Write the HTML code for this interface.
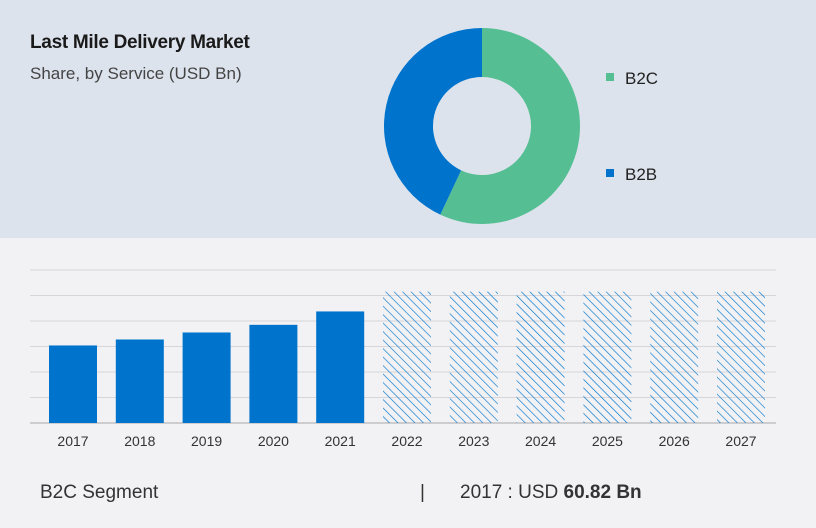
<!DOCTYPE html>
<html><head><meta charset="utf-8"><style>
body{margin:0;width:816px;height:528px;background:#f2f2f4;font-family:"Liberation Sans",sans-serif;position:relative;overflow:hidden}
.top{position:absolute;left:0;top:0;width:816px;height:238px;background:#dde3ed}
.t{position:absolute;left:30px;top:32px;font-size:19px;font-weight:bold;color:#1a1a1a;letter-spacing:-0.3px}
.s{position:absolute;left:30px;top:64px;font-size:17px;color:#444}
.f{position:absolute;top:482px;font-size:19px;color:#333}
</style></head><body>
<div class="top"></div>
<div class="t">Last Mile Delivery Market</div>
<div class="s">Share, by Service (USD Bn)</div>
<svg id="pie" width="816" height="528" style="position:absolute;left:0;top:0"></svg>
<div class="f" style="left:40px">B2C Segment</div>
<div class="f" style="left:420px">|</div>
<div class="f" style="left:460px">2017 : USD <b>60.82 Bn</b></div>
<script>
const pieLabels=["B2C","B2B"];
const pieValues=[57,43];
const pieColors=["#55bf93","#0074cc"];
const years=["2017","2018","2019","2020","2021","2022","2023","2024","2025","2026","2027"];
const barValues=[60.82,65.5,71,77,87.5,103,103,103,103,103,103];
const forecast=[false,false,false,false,false,true,true,true,true,true,true];
const ticks=[0,20,40,60,80,100,120];
const NS="http://www.w3.org/2000/svg";
const svg=document.getElementById('pie');
function mk(t,a){const e=document.createElementNS(NS,t);for(const k in a)e.setAttribute(k,a[k]);svg.appendChild(e);return e;}
const defs=mk('defs',{});
const pat=document.createElementNS(NS,'pattern');
pat.setAttribute('id','hatch');pat.setAttribute('width','6');pat.setAttribute('height','6');pat.setAttribute('patternUnits','userSpaceOnUse');pat.setAttribute('patternTransform','rotate(-45)');
const pl=document.createElementNS(NS,'line');pl.setAttribute('x1','0');pl.setAttribute('y1','0');pl.setAttribute('x2','0');pl.setAttribute('y2','6');pl.setAttribute('stroke','#0074cc');pl.setAttribute('stroke-width','1.3');
pat.appendChild(pl);defs.appendChild(pat);
// donut
const pcx=482,pcy=126,pR=98,pr=49;
const ptot=pieValues.reduce((a,b)=>a+b,0);let ang=0;
pieValues.forEach((v,i)=>{
 const a1=ang+v/ptot*2*Math.PI;
 const p=(a,rr)=>[pcx+rr*Math.sin(a),pcy-rr*Math.cos(a)];
 const [xa,ya]=p(ang,pR),[xb,yb]=p(a1,pR),[xc,yc]=p(a1,pr),[xd,yd]=p(ang,pr);
 const lg=(a1-ang)>Math.PI?1:0;
 const e=mk('path',{d:`M${xa},${ya}A${pR},${pR} 0 ${lg} 1 ${xb},${yb}L${xc},${yc}A${pr},${pr} 0 ${lg} 0 ${xd},${yd}Z`,fill:pieColors[i]});
 
 
 const ly=78+i*96;
 const sq=mk('rect',{x:606,y:ly-5,width:8,height:8,fill:pieColors[i]});
 
 
 const tx=mk('text',{x:625,y:ly+6,'font-size':17,fill:'#222','font-family':'Liberation Sans, sans-serif'});tx.textContent=pieLabels[i];
 
 
 ang=a1;
});
// bars
const baseY=423,plotTop=270,vmax=120;
const yScale=v=>baseY-(v/vmax)*(baseY-plotTop);
const barX0=49,step=66.8,bw=48;
ticks.forEach(t=>{if(t===0)return;const l=mk('line',{x1:30,x2:776,y1:yScale(t),y2:yScale(t),stroke:'#d6d6da','stroke-width':1});
 
 });
const ax=mk('line',{x1:30,x2:776,y1:baseY,y2:baseY,stroke:'#a8a8ac','stroke-width':1});


years.forEach((yr,i)=>{
 const bx=barX0+i*step;
 const b=mk('rect',{x:bx,y:yScale(barValues[i]),width:bw,height:baseY-yScale(barValues[i]),fill:forecast[i]?'url(#hatch)':'#0074cc'});
 
 
 const t=mk('text',{x:bx+bw/2,y:446,'text-anchor':'middle','font-size':14,fill:'#333','font-family':'Liberation Sans, sans-serif'});t.textContent=yr;
 
 
});
</script>
</body></html>
